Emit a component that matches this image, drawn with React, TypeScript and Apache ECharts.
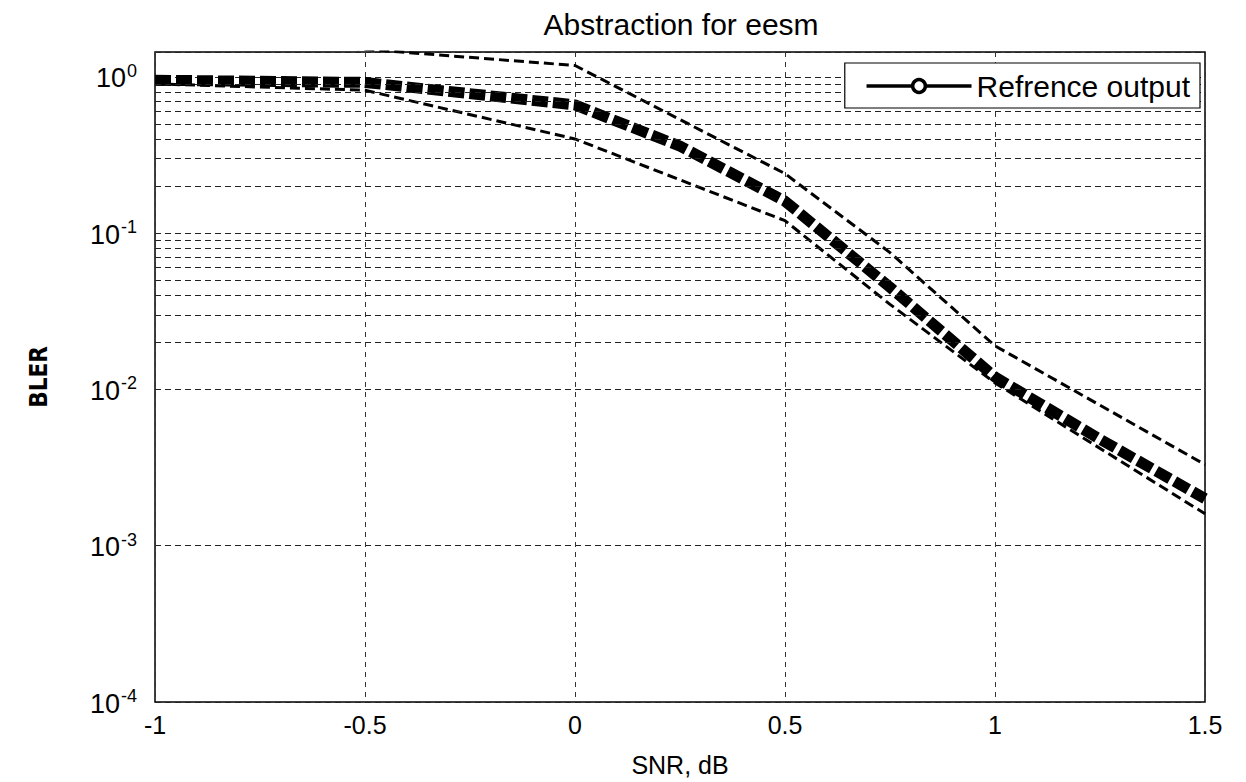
import React, { useEffect, useRef } from "react";
import * as echarts from "echarts";

// ---- data ----
const snrMain = [-1, -0.5, 0, 0.25, 0.5, 0.75, 1, 1.25, 1.5];
const blerMain = [0.95, 0.92, 0.66, 0.36, 0.16, 0.045, 0.012, 0.0048, 0.002];

const snrUpper = [-1, -0.5, 0, 0.5, 0.75, 1, 1.5];
const blerUpper = [1.9, 1.5, 1.18, 0.24, 0.075, 0.019, 0.0033];

const snrLower = [-1, -0.5, 0, 0.5, 0.75, 1, 1.5];
const blerLower = [0.9, 0.82, 0.4, 0.12, 0.035, 0.011, 0.0016];

const decades = [1e-4, 1e-3, 1e-2, 1e-1, 1];
const minorMultipliers = [2, 3, 4, 5, 6, 7, 8, 9];
const xTicks = [-1, -0.5, 0, 0.5, 1, 1.5];

const FONT = "Liberation Sans, Arial, Helvetica, sans-serif";

export default function App() {
  const ref = useRef<HTMLDivElement>(null);

  useEffect(() => {
    if (!ref.current) return;
    const chart = echarts.init(ref.current, null, { renderer: "svg" });

    const minorLines: { yAxis: number }[] = [];
    decades.slice(0, -1).forEach((d) =>
      minorMultipliers.forEach((m) => minorLines.push({ yAxis: d * m }))
    );

    const pair = (xs: number[], ys: number[]) => xs.map((x, i) => [x, ys[i]]);

    chart.setOption({
      animation: false,
      backgroundColor: "#fff",
      title: {
        text: "Abstraction for eesm",
        left: 676,
        top: 4,
        textAlign: "center",
        textStyle: { fontFamily: FONT, fontSize: 30, fontWeight: "normal", color: "#000" },
      },
      legend: {
        data: ["Refrence output"],
        right: 46,
        top: 63,
        z: 20,
        orient: "vertical",
        backgroundColor: "#fff",
        borderColor: "#000",
        borderWidth: 1.2,
        borderRadius: 0,
        padding: [8, 10, 7, 20],
        itemWidth: 105,
        itemHeight: 16,
        lineStyle: { width: 3.5, type: "solid", color: "#000" },
        itemStyle: { color: "#fff", borderColor: "#000", borderWidth: 3.5 },
        textStyle: { fontFamily: FONT, fontSize: 30, color: "#000" },
      },
      grid: {
        left: 155,
        right: 41,
        top: 52,
        bottom: 68,
        show: true,
        borderColor: "#000",
        borderWidth: 1.5,
        backgroundColor: "transparent",
      },
      xAxis: {
        type: "value",
        min: -1,
        max: 1.5,
        interval: 0.5,
        name: "SNR, dB",
        nameLocation: "middle",
        nameGap: 50,
        nameTextStyle: { fontFamily: FONT, fontSize: 25, color: "#000" },
        axisLine: { show: false },
        axisTick: { show: false },
        axisLabel: {
          fontFamily: FONT,
          fontSize: 25,
          color: "#000",
          margin: 10,
          formatter: (v: number) => (xTicks.includes(v) ? String(v) : ""),
        },
        splitLine: {
          show: true,
          lineStyle: { color: "#333", width: 1, type: [5, 5] },
        },
      },
      yAxis: {
        type: "log",
        logBase: 10,
        min: 1e-4,
        max: 1.44,
        name: "BLER",
        nameLocation: "middle",
        nameGap: 104,
        nameRotate: 90,
        nameTextStyle: {
          fontFamily: "DejaVu Sans Condensed, DejaVu Sans, sans-serif",
          fontSize: 24,
          fontWeight: "bold",
          color: "#000",
        },
        axisLine: { show: false },
        axisTick: { show: false },
        axisLabel: {
          margin: 18,
          formatter: (v: number) => {
            const e = Math.log10(v);
            if (Math.abs(e - Math.round(e)) > 1e-6) return "";
            return `{b|10}{s|${Math.round(e)}}`;
          },
          rich: {
            b: { fontFamily: FONT, fontSize: 27, color: "#000", verticalAlign: "bottom", lineHeight: 30 },
            s: { fontFamily: FONT, fontSize: 18, color: "#000", verticalAlign: "top", lineHeight: 30, padding: [0, 0, 18, 1] },
          },
        },
        splitLine: {
          show: true,
          lineStyle: { color: "#222", width: 1, type: [6, 4] },
        },
      },
      series: [
        {
          name: "minor-grid",
          type: "line",
          data: [],
          silent: true,
          z: 1,
          markLine: {
            silent: true,
            symbol: "none",
            label: { show: false },
            lineStyle: { color: "#222", width: 1, type: [6, 4] },
            data: minorLines,
          },
        },
        {
          name: "upper",
          type: "line",
          data: pair(snrUpper, blerUpper),
          symbol: "none",
          lineStyle: { color: "#000", width: 3, type: [10, 5] },
          clip: true,
        },
        {
          name: "lower",
          type: "line",
          data: pair(snrLower, blerLower),
          symbol: "none",
          lineStyle: { color: "#000", width: 3, type: [10, 5] },
          clip: true,
        },
        {
          name: "Refrence output",
          type: "line",
          data: pair(snrMain, blerMain),
          symbol: "circle",
          showSymbol: false,
          symbolSize: 13,
          itemStyle: { color: "#000" },
          lineStyle: { color: "#000", width: 11, type: [16, 5] },
          clip: true,
        },
      ],
    });

    return () => chart.dispose();
  }, []);

  return (
    <div
      ref={ref}
      style={{ position: "fixed", left: 0, top: 0, width: 1246, height: 782, background: "#fff" }}
    />
  );
}
